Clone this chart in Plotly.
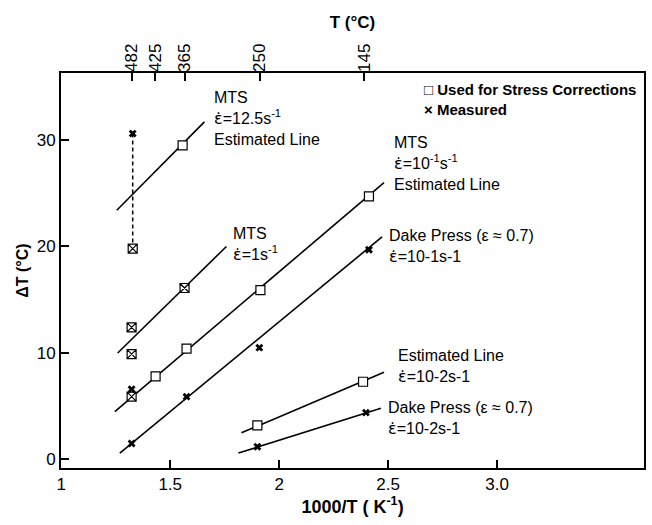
import plotly.graph_objects as go

# ---------------- data (x = 1000/T in 1/K, y = delta T in deg C) ----------------
# estimated / fitted lines (end points)
mts125_x = [1.255, 1.657]
mts125_y = [23.4, 31.7]
mts1_x = [1.259, 1.758]
mts1_y = [10.0, 20.0]
mts01_x = [1.246, 2.481]
mts01_y = [4.5, 26.0]
dake01_x = [1.269, 2.472]
dake01_y = [0.6, 20.9]
est001_x = [1.827, 2.481]
est001_y = [2.5, 8.2]
dake001_x = [1.813, 2.467]
dake001_y = [0.6, 4.8]
# dashed scatter band at 482 C
band_x = [1.328, 1.328]
band_y = [30.6, 19.8]

# points used for stress corrections (open squares)
sq_x = [1.557, 1.433, 1.575, 1.914, 2.412, 1.900, 2.385]
sq_y = [29.5, 7.8, 10.4, 15.9, 24.7, 3.2, 7.3]
# squares that are also measured (square with x)
sqx_x = [1.328, 1.566, 1.323, 1.323, 1.323]
sqx_y = [19.8, 16.1, 12.4, 9.9, 5.9]
# measured points (x)
meas_x = [1.328, 1.323, 1.323, 1.575, 1.909, 2.412, 1.900, 2.398]
meas_y = [30.6, 6.6, 1.5, 5.9, 10.5, 19.7, 1.2, 4.4]

# axis ticks
x_tickvals = [1, 1.5, 2, 2.5, 3]
x_ticktext = ["1", "1.5", "2", "2.5", "3.0"]
y_tickvals = [0, 10, 20, 30]
top_T_C = [482, 425, 365, 250, 145]
top_tickvals = [1000.0 / (t + 273.15) for t in top_T_C]
top_ticktext = [str(t) for t in top_T_C]

FONT = "Liberation Sans, Arial, Helvetica, sans-serif"
W, H = 652, 525
ML, MR, MT, MB = 61, 6, 73, 57
XR = [0.999, 3.674]
YR = [-0.8, 36.29]

fig = go.Figure()

line_style = dict(color="black", width=1.6)
for xs, ys in [(mts125_x, mts125_y), (mts1_x, mts1_y), (mts01_x, mts01_y),
               (dake01_x, dake01_y), (est001_x, est001_y), (dake001_x, dake001_y)]:
    fig.add_trace(go.Scatter(x=xs, y=ys, mode="lines", line=line_style,
                             showlegend=False, hoverinfo="skip"))
fig.add_trace(go.Scatter(x=band_x, y=band_y, mode="lines",
                         line=dict(color="black", width=1.5, dash="4px,3px"),
                         showlegend=False, hoverinfo="skip"))

fig.add_trace(go.Scatter(x=sq_x, y=sq_y, mode="markers", name="Used for Stress Corrections",
                         marker=dict(symbol="square", size=9, color="white",
                                     line=dict(color="black", width=1.2)),
                         showlegend=False))
fig.add_trace(go.Scatter(x=sqx_x, y=sqx_y, mode="markers", name="Used + Measured",
                         marker=dict(symbol="square-x", size=9, color="white",
                                     line=dict(color="black", width=1.2)),
                         showlegend=False))
fig.add_trace(go.Scatter(x=meas_x, y=meas_y, mode="markers", name="Measured",
                         marker=dict(symbol="x", size=7, color="black",
                                     line=dict(width=0)),
                         showlegend=False))
# carrier trace for the top temperature axis
fig.add_trace(go.Scatter(x=top_tickvals, y=[None] * len(top_tickvals), xaxis="x2",
                         mode="markers", marker=dict(opacity=0), showlegend=False,
                         hoverinfo="skip"))


def paper(px, py):
    return (px - ML) / (W - ML - MR), (H - MB - py) / (H - MT - MB)


EPS = '<span style="font-family:DejaVu Sans">ε̇</span>'

# (lines of text, left px, centre px)
groups = [
    (["MTS", EPS + "=12.5s<sup>-1</sup>", "Estimated Line"], 213, 119),
    (["MTS", EPS + "=1s<sup>-1</sup>"], 232, 244),
    (["MTS", EPS + "=10<sup>-1</sup>s<sup>-1</sup>", "Estimated Line"], 393, 163),
    (["Dake Press (ε ≈ 0.7)", EPS + "=10-1s-1"], 388, 246),
    (["Estimated Line", EPS + "=10-2s-1"], 397, 366),
    (["Dake Press (ε ≈ 0.7)", EPS + "=10-2s-1"], 387, 418),
]
annotations = []
for lines, px, py in groups:
    xp, yp = paper(px, py)
    annotations.append(dict(text="<br>".join(lines), x=xp, y=yp, xref="paper", yref="paper",
                            xanchor="left", yanchor="middle", align="left", showarrow=False,
                            font=dict(family=FONT, size=16, color="black")))
xp, yp = paper(423, 99)
annotations.append(dict(text="<b>□ Used for Stress Corrections</b><br><b>× Measured</b>",
                        x=xp, y=yp, xref="paper", yref="paper",
                        xanchor="left", yanchor="middle", align="left", showarrow=False,
                        font=dict(family=FONT, size=15, color="black")))

axis_common = dict(showgrid=False, zeroline=False, ticks="inside", ticklen=8,
                   tickwidth=1.5, tickcolor="black",
                   tickfont=dict(family=FONT, size=17, color="black"))

fig.update_layout(
    width=W, height=H,
    margin=dict(l=ML, r=MR, t=MT, b=MB, pad=0),
    paper_bgcolor="white", plot_bgcolor="white",
    font=dict(family=FONT, color="black"),
    showlegend=False,
    annotations=annotations,
    xaxis=dict(range=XR, tickvals=x_tickvals, ticktext=x_ticktext,
               showline=True, linecolor="black", linewidth=1.8, mirror=True,
               title=dict(text="<b>1000/T ( K<sup>-1</sup>)</b>",
                          font=dict(family=FONT, size=18), standoff=6),
               **axis_common),
    yaxis=dict(range=YR, tickvals=y_tickvals,
               showline=True, linecolor="black", linewidth=1.8, mirror=True,
               title=dict(text="<b>ΔT (°C)</b>", font=dict(family=FONT, size=16),
                          standoff=4),
               **axis_common),
    xaxis2=dict(range=XR, overlaying="x", side="top", anchor="y",
                tickvals=top_tickvals, ticktext=top_ticktext, tickangle=-90,
                showline=False,
                title=dict(text="<b>T (°C)</b>", font=dict(family=FONT, size=17),
                           standoff=10),
                **axis_common),
)

fig.write_html("out.html")
